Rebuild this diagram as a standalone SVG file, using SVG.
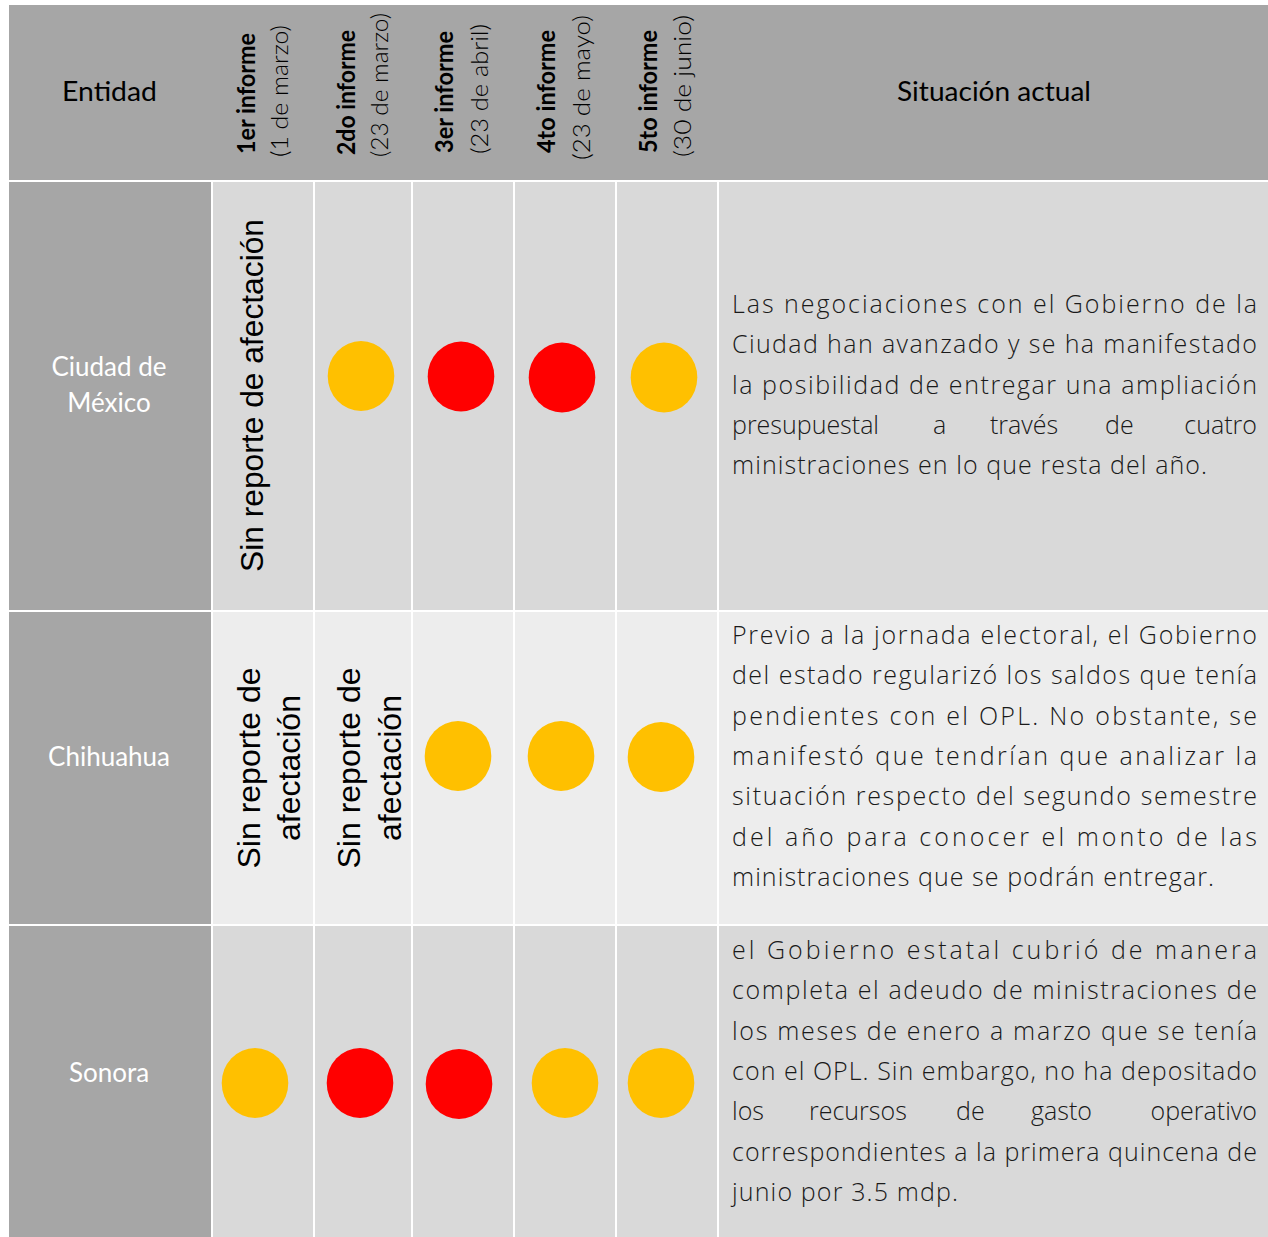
<svg xmlns="http://www.w3.org/2000/svg" width="1268" height="1237" viewBox="0 0 1268 1237">
<style>
.hdr{fill:#A6A6A6}
.ent{fill:#A6A6A6}
.c1{fill:#D9D9D9}
.c2{fill:#EDEDED}
.h{font-family:Lato,"Open Sans","Liberation Sans",sans-serif;font-size:27px;fill:#000}
.hb{font-family:Lato,"Open Sans","Liberation Sans",sans-serif;font-size:24px;font-weight:700;fill:#000}
.hl{font-family:Lato,"Open Sans","Liberation Sans",sans-serif;font-size:24px;font-weight:300;fill:#000}
.en{font-family:Lato,"Open Sans","Liberation Sans",sans-serif;font-size:26px;fill:#fff;text-anchor:middle}
.b{font-family:"Open Sans",Lato,"Liberation Sans",sans-serif;font-size:25px;font-weight:300;fill:#1a1a1a}
.e{text-anchor:end}
.sr{font-family:"Liberation Sans",Arial,sans-serif;font-size:32px;fill:#000}
.o{fill:#FFC000}
.r{fill:#FF0000}
</style>
<rect width="1268" height="1237" fill="#fff"/>
<g id="header">
<rect class="hdr" x="9" y="5" width="1259" height="175"/>
<text class="h" x="62" y="101" textLength="95" lengthAdjust="spacingAndGlyphs">Entidad</text>
<text class="h" x="897" y="101" textLength="194" lengthAdjust="spacingAndGlyphs">Situación actual</text>
<text class="hb" transform="translate(255,154) rotate(-90)" textLength="121" lengthAdjust="spacingAndGlyphs">1er informe</text>
<text class="hl" transform="translate(288,157) rotate(-90)" textLength="132" lengthAdjust="spacingAndGlyphs">(1 de marzo)</text>
<text class="hb" transform="translate(355,155) rotate(-90)" textLength="125" lengthAdjust="spacingAndGlyphs">2do informe</text>
<text class="hl" transform="translate(388,157) rotate(-90)" textLength="144" lengthAdjust="spacingAndGlyphs">(23 de marzo)</text>
<text class="hb" transform="translate(453,153) rotate(-90)" textLength="122" lengthAdjust="spacingAndGlyphs">3er informe</text>
<text class="hl" transform="translate(488,154) rotate(-90)" textLength="130" lengthAdjust="spacingAndGlyphs">(23 de abril)</text>
<text class="hb" transform="translate(555,153) rotate(-90)" textLength="123" lengthAdjust="spacingAndGlyphs">4to informe</text>
<text class="hl" transform="translate(590,160) rotate(-90)" textLength="145" lengthAdjust="spacingAndGlyphs">(23 de mayo)</text>
<text class="hb" transform="translate(657,153) rotate(-90)" textLength="123" lengthAdjust="spacingAndGlyphs">5to informe</text>
<text class="hl" transform="translate(691,157) rotate(-90)" textLength="142" lengthAdjust="spacingAndGlyphs">(30 de junio)</text>
</g>
<g id="row-cdmx">
<rect class="ent" x="9" y="182" width="202" height="428"/>
<rect class="c1" x="213" y="182" width="100" height="428"/>
<rect class="c1" x="315" y="182" width="96" height="428"/>
<rect class="c1" x="413" y="182" width="100" height="428"/>
<rect class="c1" x="515" y="182" width="100" height="428"/>
<rect class="c1" x="617" y="182" width="100" height="428"/>
<rect class="c1" x="719" y="182" width="549" height="428"/>
<text class="en" x="109" y="376">Ciudad de</text>
<text class="en" x="109" y="412">México</text>
<text class="sr" transform="translate(263,572) rotate(-90)" textLength="353" lengthAdjust="spacingAndGlyphs">Sin reporte de afectación</text>
<ellipse class="o" cx="361" cy="376" rx="33.3" ry="35"/>
<ellipse class="r" cx="461" cy="376.5" rx="33.3" ry="35"/>
<ellipse class="r" cx="562" cy="377.5" rx="33.3" ry="35"/>
<ellipse class="o" cx="664" cy="377.5" rx="33.3" ry="35"/>
<text class="b" x="732" y="313" textLength="525" lengthAdjust="spacing">Las negociaciones con el Gobierno de la</text>
<text class="b" x="732" y="353.3" textLength="525" lengthAdjust="spacing">Ciudad han avanzado y se ha manifestado</text>
<text class="b" x="732" y="393.6" textLength="525" lengthAdjust="spacing">la posibilidad de entregar una ampliación</text>
<text class="b" y="433.9"><tspan x="732">presupuestal</tspan><tspan x="933">a</tspan><tspan x="990">través</tspan><tspan x="1105">de</tspan></text>
<text class="b e" x="1257" y="433.9">cuatro</text>
<text class="b" x="732" y="474.2" textLength="475" lengthAdjust="spacing">ministraciones en lo que resta del año.</text>
</g>
<g id="row-chihuahua">
<rect class="ent" x="9" y="612" width="202" height="312"/>
<rect class="c2" x="213" y="612" width="100" height="312"/>
<rect class="c2" x="315" y="612" width="96" height="312"/>
<rect class="c2" x="413" y="612" width="100" height="312"/>
<rect class="c2" x="515" y="612" width="100" height="312"/>
<rect class="c2" x="617" y="612" width="100" height="312"/>
<rect class="c2" x="719" y="612" width="549" height="312"/>
<text class="en" x="109" y="766">Chihuahua</text>
<g text-anchor="middle">
<text class="sr" transform="translate(260,768) rotate(-90)">Sin reporte de</text>
<text class="sr" transform="translate(300,768) rotate(-90)">afectación</text>
<text class="sr" transform="translate(360,768) rotate(-90)">Sin reporte de</text>
<text class="sr" transform="translate(401,768) rotate(-90)">afectación</text>
</g>
<ellipse class="o" cx="458" cy="756" rx="33.3" ry="35"/>
<ellipse class="o" cx="561" cy="756" rx="33.3" ry="35"/>
<ellipse class="o" cx="661" cy="757" rx="33.3" ry="35"/>
<text class="b" x="732" y="644" textLength="525" lengthAdjust="spacing">Previo a la jornada electoral, el Gobierno</text>
<text class="b" x="732" y="684.3" textLength="525" lengthAdjust="spacing">del estado regularizó los saldos que tenía</text>
<text class="b" x="732" y="724.6" textLength="525" lengthAdjust="spacing">pendientes con el OPL. No obstante, se</text>
<text class="b" x="732" y="764.9" textLength="525" lengthAdjust="spacing">manifestó que tendrían que analizar la</text>
<text class="b" x="732" y="805.2" textLength="525" lengthAdjust="spacing">situación respecto del segundo semestre</text>
<text class="b" x="732" y="845.5" textLength="525" lengthAdjust="spacing">del año para conocer el monto de las</text>
<text class="b" x="732" y="885.8" textLength="482" lengthAdjust="spacing">ministraciones que se podrán entregar.</text>
</g>
<g id="row-sonora">
<rect class="ent" x="9" y="926" width="202" height="311"/>
<rect class="c1" x="213" y="926" width="100" height="311"/>
<rect class="c1" x="315" y="926" width="96" height="311"/>
<rect class="c1" x="413" y="926" width="100" height="311"/>
<rect class="c1" x="515" y="926" width="100" height="311"/>
<rect class="c1" x="617" y="926" width="100" height="311"/>
<rect class="c1" x="719" y="926" width="549" height="311"/>
<text class="en" x="109" y="1082">Sonora</text>
<ellipse class="o" cx="255" cy="1083" rx="33.3" ry="35"/>
<ellipse class="r" cx="360" cy="1083" rx="33.3" ry="35"/>
<ellipse class="r" cx="459" cy="1084" rx="33.3" ry="35"/>
<ellipse class="o" cx="565" cy="1083" rx="33.3" ry="35"/>
<ellipse class="o" cx="661" cy="1083" rx="33.3" ry="35"/>
<text class="b" x="732" y="959" textLength="525" lengthAdjust="spacing">el Gobierno estatal cubrió de manera</text>
<text class="b" x="732" y="999.3" textLength="525" lengthAdjust="spacing">completa el adeudo de ministraciones de</text>
<text class="b" x="732" y="1039.6" textLength="525" lengthAdjust="spacing">los meses de enero a marzo que se tenía</text>
<text class="b" x="732" y="1079.9" textLength="525" lengthAdjust="spacing">con el OPL. Sin embargo, no ha depositado</text>
<text class="b" y="1120.2"><tspan x="732">los</tspan><tspan x="809">recursos</tspan><tspan x="956">de</tspan><tspan x="1031">gasto</tspan></text>
<text class="b e" x="1257" y="1120.2">operativo</text>
<text class="b" x="732" y="1160.5" textLength="525" lengthAdjust="spacing">correspondientes a la primera quincena de</text>
<text class="b" x="732" y="1200.8" textLength="226" lengthAdjust="spacing">junio por 3.5 mdp.</text>
</g>
</svg>
